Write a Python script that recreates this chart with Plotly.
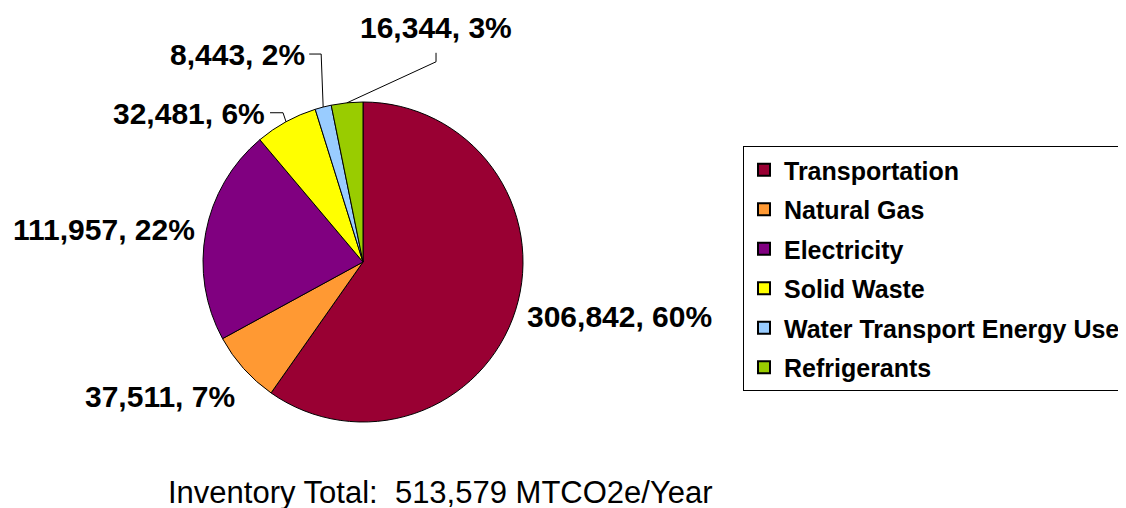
import math
import plotly.graph_objects as go

# ---- data ----
categories = ["Transportation", "Natural Gas", "Electricity", "Solid Waste",
              "Water Transport Energy Use", "Refrigerants"]
values = [306842, 37511, 111957, 32481, 8443, 16344]
total_label_value = 513579
total_label_unit = "MTCO2e/Year"

# ---- style ----
colors = ["#990033", "#FF9933", "#800080", "#FFFF00", "#99CCFF", "#99CC00"]
PAGE_OFF = 8                        # default body margin of the html page
W, H = 1126 - PAGE_OFF, 508 - PAGE_OFF
CX, CY, R = 363, 262, 160           # pie centre / radius in screen px
FONT = "Liberation Sans, Arial, sans-serif"

# label placement relative to slice edge midpoint (px), anchor
label_style = [
    dict(dx=9, dy=6, xanchor="left"),
    dict(dx=-7, dy=28, xanchor="right"),
    dict(dx=-9, dy=-3, xanchor="right"),
    dict(dx=-19, dy=-8, xanchor="right"),
    dict(dx=-16, dy=-53, xanchor="right"),
    dict(dx=89, dy=-75, xanchor="center"),
]
# leader line points relative to the edge point (px); None = no leader
leader_style = [
    None, None, None,
    [(-16, -9), (-3, -9), (0, 0)],
    [(-14, -53), (-2, -53), (0, 0)],
    [(89, -50), (89, -41), (0, 0)],
]


def px2paper(x, y):
    return (x - PAGE_OFF) / W, 1 - (y - PAGE_OFF) / H


fig = go.Figure()
dx0, dy1 = px2paper(CX - R, CY - R)
dx1, dy0 = px2paper(CX + R, CY + R)
fig.add_trace(go.Pie(
    labels=categories, values=values, sort=False, direction="clockwise",
    rotation=0, textinfo="none", hoverinfo="label+value+percent",
    marker=dict(colors=colors, line=dict(color="black", width=1)),
    domain=dict(x=[dx0, dx1], y=[dy0, dy1]),
    showlegend=False,
))

# legend via placeholder traces (one group each for spacing)
for name, c in zip(categories, colors):
    fig.add_trace(go.Scatter(
        x=[None], y=[None], mode="markers", name=name, legendgroup=name,
        marker=dict(symbol="square", size=12, color=c, line=dict(color="black", width=1)),
        showlegend=True,
    ))

total = sum(values)
annotations = []
shapes = []
cum = 0
for v, ls, ld in zip(values, label_style, leader_style):
    frac = v / total
    mid = (cum + frac / 2) * 2 * math.pi
    cum += frac
    ex = CX + R * math.sin(mid)
    ey = CY - R * math.cos(mid)
    pct = round(frac * 100)
    lx, ly = px2paper(ex + ls["dx"], ey + ls["dy"])
    annotations.append(dict(
        x=lx, y=ly, xref="paper", yref="paper", showarrow=False,
        text=f"{v:,}, {pct}%", xanchor=ls["xanchor"], yanchor="middle",
        font=dict(family=FONT, size=30, color="black", weight="bold"),
    ))
    if ld:
        pts = [px2paper(ex + a, ey + b) for a, b in ld]
        path = "M " + " L ".join(f"{p[0]},{p[1]}" for p in pts)
        shapes.append(dict(type="path", path=path, xref="paper", yref="paper",
                           line=dict(color="black", width=1)))

tx, ty = px2paper(440, 492)
annotations.append(dict(
    x=tx, y=ty, xref="paper", yref="paper", showarrow=False,
    text=f"Inventory Total:\u00a0\u00a0{total_label_value:,} {total_label_unit}",
    xanchor="center", yanchor="middle",
    font=dict(family=FONT, size=31, color="black"),
))

lgx, lgy = px2paper(743, 146)
fig.update_layout(
    width=W, height=H, margin=dict(l=0, r=0, t=0, b=0),
    paper_bgcolor="white", plot_bgcolor="white",
    xaxis=dict(visible=False), yaxis=dict(visible=False),
    annotations=annotations, shapes=shapes,
    legend=dict(x=lgx, y=lgy, xanchor="left", yanchor="top",
                bgcolor="white", bordercolor="black", borderwidth=1,
                font=dict(family=FONT, size=25, color="black", weight="bold"),
                tracegroupgap=4, itemsizing="constant", itemwidth=30,
                traceorder="grouped"),
)
fig.write_html("out.html")
